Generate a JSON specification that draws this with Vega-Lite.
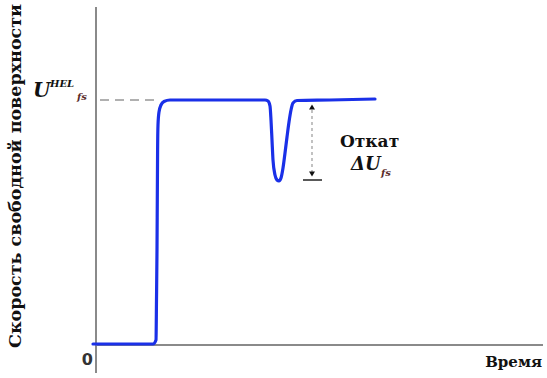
{
  "$schema": "https://vega.github.io/schema/vega-lite/v6.json",
  "width": 547,
  "height": 378,
  "autosize": {"type": "fit", "contains": "padding"},
  "padding": 0,
  "background": "white",
  "view": {"stroke": null},
  "datasets": {
    "curve": [
      {"i": 0, "t": -3, "v": 1}, {"i": 1, "t": 57, "v": 1}, {"i": 2, "t": 60, "v": 5},
      {"i": 3, "t": 60.5, "v": 45}, {"i": 4, "t": 61, "v": 95}, {"i": 5, "t": 61.3, "v": 145},
      {"i": 6, "t": 61.6, "v": 195}, {"i": 7, "t": 62, "v": 220}, {"i": 8, "t": 63, "v": 233},
      {"i": 9, "t": 65, "v": 240}, {"i": 10, "t": 68, "v": 243.5}, {"i": 11, "t": 74, "v": 245},
      {"i": 12, "t": 169, "v": 245}, {"i": 13, "t": 172, "v": 244}, {"i": 14, "t": 174, "v": 239},
      {"i": 15, "t": 175, "v": 225}, {"i": 16, "t": 176, "v": 205}, {"i": 17, "t": 177, "v": 185},
      {"i": 18, "t": 179, "v": 170}, {"i": 19, "t": 181, "v": 165}, {"i": 20, "t": 183, "v": 164},
      {"i": 21, "t": 185, "v": 167}, {"i": 22, "t": 187, "v": 177}, {"i": 23, "t": 189, "v": 192},
      {"i": 24, "t": 191, "v": 208}, {"i": 25, "t": 193, "v": 223}, {"i": 26, "t": 195, "v": 235},
      {"i": 27, "t": 197, "v": 242}, {"i": 28, "t": 201, "v": 244.5}, {"i": 29, "t": 234, "v": 245},
      {"i": 30, "t": 279, "v": 246}
    ]
  },
  "encoding": {
    "x": {"field": "t", "type": "quantitative", "scale": {"domain": [-96, 451], "nice": false, "zero": false}, "axis": null},
    "y": {"field": "v", "type": "quantitative", "scale": {"domain": [-33, 345], "nice": false, "zero": false}, "axis": null}
  },
  "layer": [
    {
      "data": {"values": [
        {"t": 0, "v": -28, "t2": 0, "v2": 338},
        {"t": 0, "v": 0, "t2": 447, "v2": 0}
      ]},
      "mark": {"type": "rule", "color": "#8a8a8a", "strokeWidth": 2},
      "encoding": {"x2": {"field": "t2"}, "y2": {"field": "v2"}}
    },
    {
      "data": {"values": [{"t": 4, "v": 245, "t2": 62, "v2": 245}]},
      "mark": {"type": "rule", "color": "#b0b0b0", "strokeWidth": 2, "strokeDash": [9, 6]},
      "encoding": {"x2": {"field": "t2"}, "y2": {"field": "v2"}}
    },
    {
      "data": {"values": [{"t": 216, "v": 172, "t2": 216, "v2": 238}]},
      "mark": {"type": "rule", "color": "#999999", "strokeWidth": 1.2, "strokeDash": [3, 3]},
      "encoding": {"x2": {"field": "t2"}, "y2": {"field": "v2"}}
    },
    {
      "data": {"values": [{"t": 207, "v": 165, "t2": 226, "v2": 165}]},
      "mark": {"type": "rule", "color": "#222222", "strokeWidth": 1.5},
      "encoding": {"x2": {"field": "t2"}, "y2": {"field": "v2"}}
    },
    {
      "data": {"values": [{"t": 216, "v": 238}]},
      "mark": {"type": "point", "shape": "triangle-up", "filled": true, "color": "#111111", "size": 35, "opacity": 1}
    },
    {
      "data": {"values": [{"t": 216, "v": 171}]},
      "mark": {"type": "point", "shape": "triangle-down", "filled": true, "color": "#111111", "size": 35, "opacity": 1}
    },
    {
      "data": {"name": "curve"},
      "mark": {"type": "line", "color": "#1a30e8", "strokeWidth": 3.2, "interpolate": "monotone", "strokeCap": "round", "strokeJoin": "round"},
      "encoding": {"order": {"field": "i", "type": "quantitative"}}
    },
    {
      "data": {"values": [{"t": -80, "v": 169, "label": "Скорость свободной поверхности"}]},
      "mark": {"type": "text", "angle": 270, "font": "DejaVu Serif", "fontSize": 17.5, "fontWeight": "bold", "color": "#111111", "baseline": "middle", "align": "center"},
      "encoding": {"text": {"field": "label"}}
    },
    {
      "data": {"values": [{"t": -63, "v": 248, "label": "U"}]},
      "mark": {"type": "text", "font": "DejaVu Serif", "fontSize": 20, "fontWeight": "bold", "fontStyle": "italic", "color": "#111111", "baseline": "alphabetic", "align": "left"},
      "encoding": {"text": {"field": "label"}}
    },
    {
      "data": {"values": [{"t": 255, "v": 175, "label": "ΔU"}]},
      "mark": {"type": "text", "font": "DejaVu Serif", "fontSize": 18, "fontWeight": "bold", "fontStyle": "italic", "color": "#111111", "baseline": "alphabetic", "align": "left"},
      "encoding": {"text": {"field": "label"}}
    },
    {
      "data": {"values": [{"t": -46, "v": 258, "label": "HEL"}]},
      "mark": {"type": "text", "font": "DejaVu Serif", "fontSize": 10, "fontWeight": "bold", "fontStyle": "italic", "color": "#111111", "baseline": "alphabetic", "align": "left"},
      "encoding": {"text": {"field": "label"}}
    },
    {
      "data": {"values": [{"t": -19, "v": 245, "label": "fs"}, {"t": 285, "v": 169, "label": "fs"}]},
      "mark": {"type": "text", "font": "DejaVu Serif", "fontSize": 10, "fontWeight": "bold", "fontStyle": "italic", "color": "#5a2a2a", "baseline": "alphabetic", "align": "left"},
      "encoding": {"text": {"field": "label"}}
    },
    {
      "data": {"values": [{"t": 244, "v": 198, "label": "Откат"}]},
      "mark": {"type": "text", "font": "DejaVu Serif", "fontSize": 17, "fontWeight": "bold", "color": "#111111", "baseline": "alphabetic", "align": "left"},
      "encoding": {"text": {"field": "label"}}
    },
    {
      "data": {"values": [{"t": 446, "v": -22, "label": "Время"}]},
      "mark": {"type": "text", "font": "DejaVu Serif", "fontSize": 15, "fontWeight": "bold", "color": "#111111", "baseline": "alphabetic", "align": "right"},
      "encoding": {"text": {"field": "label"}}
    },
    {
      "data": {"values": [{"t": -3, "v": -20, "label": "0"}]},
      "mark": {"type": "text", "font": "DejaVu Sans", "fontSize": 16, "fontWeight": "bold", "color": "#333333", "baseline": "alphabetic", "align": "right"},
      "encoding": {"text": {"field": "label"}}
    }
  ]
}
